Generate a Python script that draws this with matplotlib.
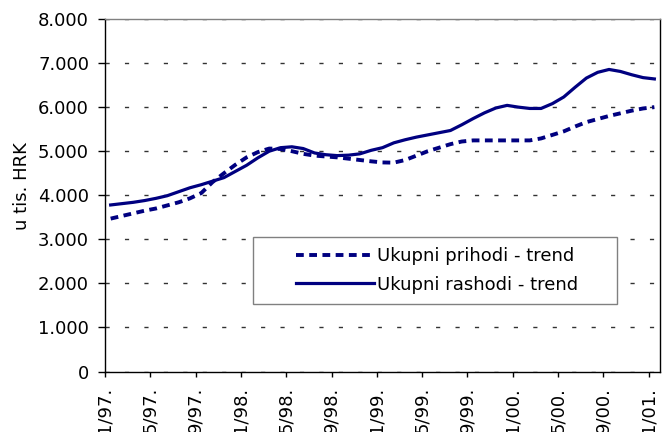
import matplotlib.pyplot as plt
from matplotlib.patches import Rectangle
import numpy as np

plt.rcParams['font.family'] = ['DejaVu Sans']

# monthly trend values, 1/97 .. 1/01 (thousand HRK)
prihodi = [3470, 3530, 3590, 3650, 3700, 3770, 3840, 3930, 4050, 4300,
           4500, 4690, 4860, 4980, 5060, 5050, 5000, 4940, 4900, 4880,
           4860, 4830, 4800, 4770, 4745, 4740, 4800, 4900, 5000, 5080,
           5160, 5220, 5245, 5245, 5245, 5245, 5245, 5245, 5290, 5370,
           5450, 5560, 5660, 5730, 5800, 5860, 5920, 5970, 6000]
rashodi = [3780, 3810, 3840, 3880, 3930, 3990, 4080, 4170, 4240, 4320,
           4400, 4540, 4680, 4850, 5000, 5080, 5100, 5060, 4960, 4920,
           4900, 4910, 4940, 5020, 5080, 5190, 5260, 5320, 5370, 5420,
           5470, 5600, 5740, 5870, 5980, 6040, 6000, 5970, 5970, 6080,
           6230, 6450, 6660, 6790, 6855, 6810, 6735, 6670, 6640]
tick_labels = ['1/97.', '5/97.', '9/97.', '1/98.', '5/98.', '9/98.', '1/99.',
               '5/99.', '9/99.', '1/00.', '5/00.', '9/00.', '1/01.']

navy = '#000080'
x = np.arange(len(prihodi)) + 0.5

fig = plt.figure(figsize=(6.62, 4.32), dpi=100)
ax = fig.add_axes([0.1586, 0.140, 0.8384, 0.816])

ax.plot(x, prihodi, color=navy, lw=2.8, dashes=(2.0, 1.4),
        label='Ukupni prihodi - trend')
ax.plot(x, rashodi, color=navy, lw=2.3, label='Ukupni rashodi - trend')

ax.set_xlim(0, len(prihodi))
ax.set_ylim(0, 8000)
ax.set_yticks(np.arange(0, 8001, 1000))
ax.set_yticklabels(['0'] + [f'{v // 1000}.000' for v in range(1000, 8001, 1000)])
ax.set_xticks(np.arange(0, len(prihodi), 4))
ax.set_xticklabels(tick_labels, rotation=90)

ax.yaxis.grid(True, color='#333333', lw=1.0, dashes=(3, 11))
ax.set_axisbelow(True)

for side in ('left', 'bottom', 'right'):
    ax.spines[side].set_color('black')
    ax.spines[side].set_linewidth(1.0)
ax.spines['top'].set_color('#808080')
ax.spines['top'].set_linewidth(1.0)

ax.tick_params(axis='both', labelsize=13, width=1, color='black')
ax.tick_params(axis='x', length=3.6, pad=7.5)
ax.tick_params(axis='y', length=5, pad=6.5)
ax.set_ylabel('u tis. HRK', fontsize=13)
ax.yaxis.set_label_coords(-0.133, 0.525)

# legend box with wide inner margins
box_x, box_y, box_w, box_h = 0.2667, 0.1919, 0.6559, 0.1901
ax.add_patch(Rectangle((box_x, box_y), box_w, box_h, transform=ax.transAxes,
                       facecolor='white', edgecolor='#808080', lw=1.0,
                       zorder=4))
leg = ax.legend(loc='center left', bbox_to_anchor=(0.345, box_y + box_h / 2),
                fontsize=13, frameon=False, handlelength=4.3,
                handletextpad=0.15, borderpad=0, labelspacing=0.6,
                borderaxespad=0)
leg.set_zorder(5)

fig.savefig('out.png', dpi=100)
